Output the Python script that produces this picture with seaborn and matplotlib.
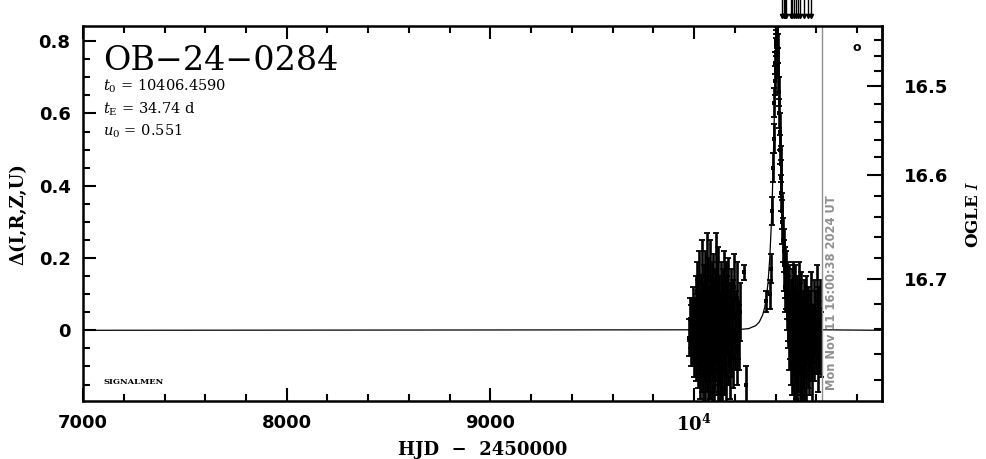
import numpy as np
import pandas as pd
import matplotlib
matplotlib.use("Agg")
import matplotlib.pyplot as plt
import matplotlib.transforms as mtransforms
from matplotlib.ticker import MultipleLocator, FixedLocator, FuncFormatter
import seaborn as sns

# season 1 photometry (HJD-2450000, delta flux, error)
s1_hjd = [9976, 9979, 9983, 9986, 9990, 9993, 9996, 9999, 10002, 10004, 10007, 10009, 10012, 10014,
          10017, 10019, 10021, 10024, 10026, 10028, 10031, 10033, 10035, 10038, 10040, 10042, 10044,
          10046, 10049, 10051, 10053, 10055, 10057, 10059, 10061, 10064, 10066, 10068, 10070, 10072,
          10075, 10077, 10079, 10081, 10084, 10086, 10088, 10090, 10093, 10095, 10097, 10099, 10102,
          10104, 10106, 10108, 10110, 10113, 10115, 10117, 10119, 10122, 10124, 10126, 10129, 10131,
          10133, 10136, 10138, 10140, 10143, 10145, 10148, 10150, 10153, 10155, 10158, 10160, 10163,
          10166, 10168, 10171, 10174, 10177, 10180, 10183, 10186, 10190, 10193, 10197, 10200, 10204,
          10208, 10212, 10216, 10221, 10226, 10245, 10255]
s1_delta = [-0.02, 0.03, -0.05, 0.01, 0.04, -0.03, 0.06, -0.07, 0.02, -0.01, 0.08, -0.06, 0.03, 0.11,
            -0.09, 0.00, 0.05, -0.04, 0.13, -0.11, 0.02, 0.07, -0.02, 0.15, -0.08, 0.04, -0.13,
            0.09, 0.01, -0.05, 0.12, -0.10, 0.06, -0.01, 0.17, -0.07, 0.03, -0.14, 0.10, 0.00,
            -0.04, 0.14, -0.09, 0.05, -0.02, 0.08, -0.12, 0.02, 0.11, -0.06, 0.04, -0.15, 0.07,
            -0.03, 0.16, 0.01, -0.08, 0.09, -0.11, 0.03, 0.13, -0.05, 0.06, -0.13, 0.00, 0.10,
            -0.07, 0.04, -0.16, 0.08, -0.02, 0.12, -0.09, 0.05, -0.04, 0.09, -0.12, 0.02, 0.07,
            -0.06, 0.11, -0.01, -0.10, 0.05, 0.09, -0.04, 0.01, -0.08, 0.06, 0.12, -0.03, 0.03,
            -0.06, 0.09, 0.00, -0.02, 0.05, 0.16, -0.15]
s1_err = [0.05, 0.06, 0.05, 0.06, 0.05, 0.07, 0.06, 0.06, 0.07, 0.08, 0.07, 0.08, 0.07, 0.08,
          0.07, 0.08, 0.09, 0.08, 0.09, 0.08, 0.09, 0.08, 0.09, 0.10, 0.09, 0.09, 0.10,
          0.09, 0.10, 0.09, 0.10, 0.10, 0.09, 0.10, 0.10, 0.10, 0.09, 0.10, 0.10, 0.09,
          0.10, 0.11, 0.10, 0.10, 0.10, 0.11, 0.10, 0.10, 0.10, 0.11, 0.10, 0.10, 0.10,
          0.11, 0.11, 0.10, 0.10, 0.10, 0.11, 0.10, 0.10, 0.10, 0.09, 0.10, 0.10, 0.09,
          0.10, 0.09, 0.10, 0.09, 0.10, 0.10, 0.09, 0.09, 0.09, 0.10, 0.09, 0.09, 0.08,
          0.09, 0.09, 0.08, 0.09, 0.08, 0.08, 0.09, 0.08, 0.08, 0.08, 0.09, 0.08, 0.08,
          0.09, 0.10, 0.08, 0.09, 0.08, 0.02, 0.05]

# season 2 photometry, incl. the peak
s2_hjd = [10353, 10372, 10378, 10383, 10387, 10390, 10393, 10396, 10398, 10400, 10402, 10404, 10405,
          10407, 10408, 10410, 10412, 10414, 10416, 10418, 10420, 10422, 10424, 10426, 10428, 10431,
          10433, 10436, 10439, 10442, 10445, 10448, 10451, 10454, 10457, 10460, 10463, 10466, 10468,
          10471, 10473, 10476, 10478, 10481, 10483, 10486, 10488, 10491, 10493, 10496, 10498, 10501,
          10503, 10506, 10508, 10511, 10513, 10516, 10518, 10521, 10523, 10526, 10528, 10531, 10533,
          10536, 10538, 10541, 10543, 10546, 10548, 10551, 10554, 10557, 10560, 10563, 10566, 10569,
          10572, 10576, 10579, 10583, 10586, 10590, 10594, 10598, 10602, 10606, 10610, 10614, 10618,
          10622]
s2_delta = [0.08, 0.10, 0.17, 0.33, 0.45, 0.53, 0.63, 0.69, 0.74, 0.77, 0.79, 0.80, 0.81,
            0.80, 0.79, 0.78, 0.74, 0.70, 0.66, 0.60, 0.55, 0.50, 0.46, 0.42, 0.38, 0.33,
            0.30, 0.25, 0.22, 0.18, 0.16, 0.12, 0.14, 0.08, 0.11, 0.03, 0.06, -0.03, 0.09,
            0.01, -0.06, 0.05, -0.09, 0.07, -0.02, 0.10, -0.12, 0.03, -0.05, 0.08, -0.10, 0.00,
            0.06, -0.14, 0.02, -0.07, 0.09, -0.03, -0.11, 0.04, -0.08, 0.07, -0.01, -0.13, 0.02,
            -0.06, 0.05, -0.10, 0.00, -0.04, 0.06, -0.12, 0.01, -0.07, 0.04, -0.02, -0.09, 0.03,
            -0.05, 0.07, -0.11, -0.01, 0.05, -0.06, 0.02, -0.03, 0.08, -0.08, 0.03, -0.02, 0.06,
            -0.04]
s2_err = [0.03, 0.04, 0.04, 0.04, 0.04, 0.04, 0.04, 0.04, 0.03, 0.04, 0.03, 0.03, 0.03,
          0.04, 0.03, 0.04, 0.04, 0.04, 0.04, 0.04, 0.05, 0.04, 0.05, 0.05, 0.05, 0.05,
          0.06, 0.06, 0.06, 0.07, 0.07, 0.07, 0.08, 0.08, 0.08, 0.08, 0.09, 0.08, 0.09,
          0.09, 0.09, 0.09, 0.09, 0.10, 0.09, 0.09, 0.10, 0.09, 0.10, 0.10, 0.09, 0.10,
          0.09, 0.10, 0.09, 0.10, 0.10, 0.09, 0.10, 0.09, 0.10, 0.09, 0.10, 0.10, 0.09,
          0.10, 0.09, 0.10, 0.09, 0.09, 0.09, 0.10, 0.09, 0.09, 0.08, 0.09, 0.09, 0.08,
          0.09, 0.09, 0.09, 0.08, 0.09, 0.08, 0.09, 0.09, 0.10, 0.09, 0.09, 0.10, 0.08,
          0.09]

# model curve (t0 = 10406.459, tE = 34.74 d, u0 = 0.551)
model_hjd = [7000, 10206.5, 10267.5, 10302.5, 10319.5, 10336.5, 10345.5, 10354.5, 10362.5, 10371.5,
             10379.5, 10384.5, 10389.5, 10393.5, 10397.5, 10400.5, 10403.5, 10406.459,
             10409.5, 10412.5, 10415.5, 10419.5, 10423.5, 10428.5, 10433.5, 10441.5, 10450.5,
             10458.5, 10467.5, 10476.5, 10493.5, 10510.5, 10545.5, 10606.5, 10922]
model_delta = [0.0, 0.0014, 0.0046, 0.0129, 0.0227, 0.0427, 0.0616, 0.0909, 0.131, 0.2025,
               0.302, 0.388, 0.495, 0.592, 0.690, 0.753, 0.797, 0.812,
               0.797, 0.753, 0.690, 0.592, 0.495, 0.388, 0.302, 0.2025, 0.131,
               0.0909, 0.0616, 0.0427, 0.0227, 0.0129, 0.0046, 0.0014, 0.0]

# right-hand OGLE I magnitude scale, tick calibration against delta
cal_mag = [16.40, 16.50, 16.60, 16.70, 16.80]
cal_delta = [0.888, 0.675, 0.429, 0.143, -0.206]

# other marks
arrow_hjd = [10431, 10440, 10445, 10450, 10475, 10482, 10490, 10500, 10510, 10520, 10540, 10560, 10574]
today_hjd = 10627
today_txt = "Mon Nov 11 16:00:38 2024 UT"

sns.set_style("ticks")
plt.rcParams["font.family"] = ["DejaVu Sans"]
plt.rcParams["mathtext.fontset"] = "dejavuserif"
plt.rcParams["text.color"] = "black"
plt.rcParams["axes.labelcolor"] = "black"

df = pd.DataFrame({"hjd": s1_hjd + s2_hjd, "delta": s1_delta + s2_delta, "err": s1_err + s2_err})
mdl = pd.DataFrame({"hjd": model_hjd, "delta": model_delta})

fig = plt.figure(figsize=(9.86, 4.59), dpi=100)
ax = fig.add_axes([0.0842, 0.1253, 0.8103, 0.8181])

sns.lineplot(data=mdl, x="hjd", y="delta", ax=ax, color="black", linewidth=0.9, sort=False)
ax.errorbar(df["hjd"], df["delta"], yerr=df["err"], fmt="none", ecolor="black",
            elinewidth=1.9, capsize=2.0, capthick=1.3)
sns.scatterplot(data=df, x="hjd", y="delta", ax=ax, marker="s", s=9, color="black", linewidth=0)

ax.set_xlim(7000, 10922)
ax.set_ylim(-0.197, 0.842)

# today marker
ax.axvline(today_hjd, color="#909090", linewidth=1.0)
trans = mtransforms.blended_transform_factory(ax.transData, ax.transAxes)
ax.text(today_hjd + 14, 0.03, today_txt, transform=trans, rotation=90, ha="left", va="bottom",
        color="#909090", fontsize=8.3, fontweight="bold")

# arrows above the frame
for h in arrow_hjd:
    ax.plot([h, h], [1.072, 1.024], transform=trans, color="black", linewidth=1.0, clip_on=False)
    ax.plot([h], [1.027], transform=trans, marker="v", markersize=3, color="black", clip_on=False)

# axes styling
for s in ax.spines.values():
    s.set_linewidth(1.8)
    s.set_color("black")
ax.xaxis.set_major_locator(FixedLocator([7000, 8000, 9000, 10000]))
ax.xaxis.set_minor_locator(MultipleLocator(200))
ax.xaxis.set_major_formatter(FuncFormatter(lambda v, p: r"$\mathbf{10^4}$" if v == 10000 else f"{v:.0f}"))
ax.yaxis.set_major_locator(MultipleLocator(0.2))
ax.yaxis.set_minor_locator(MultipleLocator(0.05))
ax.yaxis.set_major_formatter(FuncFormatter(lambda v, p: f"{v:g}" if abs(v) > 1e-9 else "0"))
ax.tick_params(axis="both", which="both", direction="in", colors="black")
ax.tick_params(axis="x", which="both", top=True, bottom=True)
ax.tick_params(axis="y", which="both", left=True, right=False)
ax.tick_params(which="major", length=9.5, width=1.5, labelsize=13, pad=9)
ax.tick_params(which="minor", length=5, width=1.5)
for lab in ax.get_xticklabels() + ax.get_yticklabels():
    lab.set_fontweight("bold")

ax.set_xlabel("HJD  −  2450000", family="DejaVu Serif", fontsize=13, fontweight="bold", labelpad=4)
ax.set_ylabel("Δ(I,R,Z,U)", family="DejaVu Serif", fontsize=13, fontweight="bold", labelpad=8)


def d2m(d):
    return np.interp(d, cal_delta[::-1], cal_mag[::-1])


def m2d(m):
    return np.interp(m, cal_mag, cal_delta)


sec = ax.secondary_yaxis("right", functions=(d2m, m2d))
sec.yaxis.set_major_locator(FixedLocator([16.5, 16.6, 16.7]))
sec.yaxis.set_minor_locator(MultipleLocator(0.02))
sec.yaxis.set_major_formatter(FuncFormatter(lambda v, p: f"{v:.1f}"))
sec.tick_params(which="both", direction="in", colors="black")
sec.tick_params(which="major", length=10.5, width=1.5, labelsize=13, pad=16)
sec.tick_params(which="minor", length=5.5, width=1.5)
sec.spines["right"].set_linewidth(1.8)
for lab in sec.get_yticklabels():
    lab.set_fontweight("bold")
sec.set_ylabel(r"OGLE $\mathbf{\mathit{I}}$", family="DejaVu Serif", fontsize=12,
               fontweight="bold", rotation=90, labelpad=12)

# annotations
ax.text(0.025, 0.883, "OB−24−0284", transform=ax.transAxes, family="DejaVu Serif",
        fontsize=24, va="baseline", ha="left")
ax.text(0.025, 0.827, r"$t_0$ = 10406.4590", transform=ax.transAxes, family="DejaVu Serif",
        fontsize=10.5, va="baseline")
ax.text(0.025, 0.766, r"$t_{\rm E}$ = 34.74 d", transform=ax.transAxes, family="DejaVu Serif",
        fontsize=10.5, va="baseline")
ax.text(0.025, 0.707, r"$u_0$ = 0.551", transform=ax.transAxes, family="DejaVu Serif",
        fontsize=10.5, va="baseline")
ax.text(0.026, 0.047, "SIGNALMEN", transform=ax.transAxes, family="DejaVu Serif",
        fontsize=6, fontweight="bold", va="baseline")
ax.text(0.969, 0.944, "o", transform=ax.transAxes, fontsize=9, fontweight="bold",
        ha="center", va="center")

fig.savefig("out.png", dpi=100)
